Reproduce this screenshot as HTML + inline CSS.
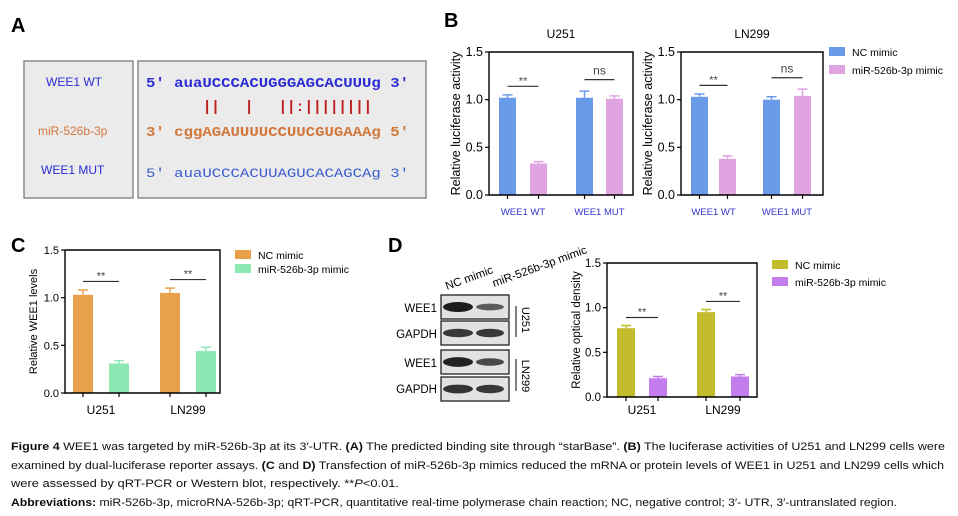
<!DOCTYPE html>
<html><head><meta charset="utf-8"><style>
html,body{margin:0;padding:0;background:#fff;width:958px;height:516px;overflow:hidden}
svg{display:block}
text{font-family:"Liberation Sans",sans-serif}
.mono{font-family:"Liberation Mono",monospace;font-weight:bold}
</style></head><body>
<svg id="fig" width="958" height="516" viewBox="0 0 958 516">
<!-- Panel A -->
<text x="11" y="32" font-size="20" font-weight="bold">A</text>
<rect x="24" y="61" width="109" height="137" fill="#ebebeb" stroke="#8a8a8a" stroke-width="1.5"/>
<rect x="138" y="61" width="288" height="137" fill="#ebebeb" stroke="#8a8a8a" stroke-width="1.5"/>
<text x="46" y="86" font-size="12" fill="#2b2bd6">WEE1 WT</text>
<text x="38" y="135" font-size="12" fill="#d2763a">miR-526b-3p</text>
<text x="41" y="174" font-size="12" fill="#2b2bd6">WEE1 MUT</text>
<text class="mono" x="146" y="87" font-size="14" fill="#2b2bd6" textLength="263" lengthAdjust="spacingAndGlyphs">5' auaUCCCACUGGGAGCACUUUg 3'</text>
<text x="205" y="111" font-size="15" font-weight="bold" fill="#c02020" textLength="165" xml:space="preserve">||   |   ||:||||||||</text>
<text class="mono" x="146" y="136" font-size="14" fill="#d2763a" textLength="263" lengthAdjust="spacingAndGlyphs">3' cggAGAUUUUCCUUCGUGAAAg 5'</text>
<text class="mono" x="146" y="177" font-size="13" fill="#3b5bd0" textLength="263" lengthAdjust="spacingAndGlyphs" style="font-weight:normal">5' auaUCCCACUUAGUCACAGCAg 3'</text>

<text x="444" y="27" font-size="20" font-weight="bold">B</text>
<text x="11" y="252" font-size="20" font-weight="bold">C</text>
<text x="388" y="252" font-size="20" font-weight="bold">D</text>

<!-- Western blot -->
<g>
<text x="447" y="290" font-size="11.5" transform="rotate(-20 447 290)">NC mimic</text>
<text x="494" y="287" font-size="11.5" transform="rotate(-20 494 287)">miR-526b-3p mimic</text>
<g id="blots"></g>
<text x="437" y="312" font-size="11.5" text-anchor="end">WEE1</text>
<text x="437" y="338" font-size="11.5" text-anchor="end">GAPDH</text>
<text x="437" y="367" font-size="11.5" text-anchor="end">WEE1</text>
<text x="437" y="393" font-size="11.5" text-anchor="end">GAPDH</text>
<line x1="516" y1="306" x2="516" y2="337" stroke="#000"/>
<line x1="516" y1="359" x2="516" y2="391" stroke="#000"/>
<text x="522" y="320" font-size="11" transform="rotate(90 522 320)" text-anchor="middle">U251</text>
<text x="522" y="376" font-size="11" transform="rotate(90 522 376)" text-anchor="middle">LN299</text>
</g>

<!-- Caption -->
<g font-size="11.3" fill="#111">
<text x="11" y="450" textLength="934" lengthAdjust="spacingAndGlyphs"><tspan font-weight="bold">Figure 4</tspan> WEE1 was targeted by miR-526b-3p at its 3′-UTR. <tspan font-weight="bold">(A)</tspan> The predicted binding site through “starBase”. <tspan font-weight="bold">(B)</tspan> The luciferase activities of U251 and LN299 cells were</text>
<text x="11" y="469" textLength="933" lengthAdjust="spacingAndGlyphs">examined by dual-luciferase reporter assays. <tspan font-weight="bold">(C</tspan> and <tspan font-weight="bold">D)</tspan> Transfection of miR-526b-3p mimics reduced the mRNA or protein levels of WEE1 in U251 and LN299 cells which</text>
<text x="11" y="487" textLength="388" lengthAdjust="spacingAndGlyphs">were assessed by qRT-PCR or Western blot, respectively. **<tspan font-style="italic">P</tspan>&lt;0.01.</text>
<text x="11" y="506" textLength="886" lengthAdjust="spacingAndGlyphs"><tspan font-weight="bold">Abbreviations:</tspan> miR-526b-3p, microRNA-526b-3p; qRT-PCR, quantitative real-time polymerase chain reaction; NC, negative control; 3′- UTR, 3′-untranslated region.</text>
</g>
<g id="charts"></g>
</svg>
<script>
// ---- data ----
const yTicks = [0.0, 0.5, 1.0, 1.5];
const yTickLabels = ["0.0", "0.5", "1.0", "1.5"];
const bCategories = ["WEE1 WT", "WEE1 MUT"];
const bU251Nc = [1.02, 1.02];
const bU251NcErr = [0.03, 0.07];
const bU251Mir = [0.33, 1.01];
const bU251MirErr = [0.02, 0.03];
const bLn299Nc = [1.03, 1.00];
const bLn299NcErr = [0.03, 0.03];
const bLn299Mir = [0.38, 1.04];
const bLn299MirErr = [0.03, 0.07];
const bU251Sig = ["**", "ns"];
const bLn299Sig = ["**", "ns"];
const cCategories = ["U251", "LN299"];
const cNc = [1.03, 1.05];
const cNcErr = [0.05, 0.05];
const cMir = [0.31, 0.44];
const cMirErr = [0.03, 0.04];
const cSig = ["**", "**"];
const dCategories = ["U251", "LN299"];
const dNc = [0.77, 0.95];
const dNcErr = [0.03, 0.03];
const dMir = [0.21, 0.23];
const dMirErr = [0.02, 0.02];
const dSig = ["**", "**"];
const blotNc = [1.0, 0.75, 0.95, 0.8];
const blotMir = [0.45, 0.75, 0.6, 0.75];

const NS = "http://www.w3.org/2000/svg";
const root = document.getElementById("charts");
function mk(tag, attrs, parent, txt) {
  const e = document.createElementNS(NS, tag);
  for (const k in attrs) e.setAttribute(k, attrs[k]);
  if (txt !== undefined) e.textContent = txt;
  (parent || root).appendChild(e);
  return e;
}

function chart(cfg) {
  const g = mk("g", {});
  
  
  const y = v => cfg.y0 - (v / 1.5) * (cfg.y0 - cfg.y1);
  yTicks.forEach((t, i) => {
    const tk = mk("line", {x1: cfg.x0 - 4, x2: cfg.x0, y1: y(t), y2: y(t), stroke: "#000", "stroke-width": 1.2}, g);
    
    
    const tl = mk("text", {x: cfg.x0 - 6, y: y(t) + 4, "font-size": cfg.fs, "text-anchor": "end"}, g, yTickLabels[i]);
    
    
  });
  const yt = mk("text", {x: cfg.titleX, y: (cfg.y0 + cfg.y1) / 2, "font-size": cfg.tfs || cfg.fs, "text-anchor": "middle", transform: `rotate(-90 ${cfg.titleX} ${(cfg.y0 + cfg.y1) / 2})`}, g, cfg.yTitle);
  
  
  if (cfg.title) {
    const tt = mk("text", {x: (cfg.x0 + cfg.x2) / 2, y: cfg.y1 - 14, "font-size": 12, "text-anchor": "middle"}, g, cfg.title);
    
    
  }
  const series = [[cfg.nc, cfg.ncErr, cfg.ncColor, cfg.ncX], [cfg.mir, cfg.mirErr, cfg.mirColor, cfg.mirX]];
  series.forEach((s, si) => {
    s[0].forEach((v, i) => {
      const x = s[3][i];
      const top = y(v + s[1][i]);
      const eb = mk("path", {d: `M${x + cfg.bw / 2} ${y(v)}V${top}M${x + cfg.bw / 2 - 5} ${top}H${x + cfg.bw / 2 + 5}`, stroke: s[2], "stroke-width": 1.5, fill: "none"}, g);
      
      
      const r = mk("rect", {x: x, y: y(v), width: cfg.bw, height: cfg.y0 - y(v), fill: s[2]}, g);
      
      
      const xt = mk("line", {x1: x + cfg.bw / 2, x2: x + cfg.bw / 2, y1: cfg.y0, y2: cfg.y0 + 4, stroke: "#000", "stroke-width": 1.2}, g);
      
      
    });
  });
  cfg.cats.forEach((c, i) => {
    const xa = cfg.ncX[i] + cfg.bw / 2, xb = cfg.mirX[i] + cfg.bw / 2;
    const top = Math.max(cfg.nc[i] + cfg.ncErr[i], cfg.mir[i] + cfg.mirErr[i]);
    const sy = y(top + (cfg.sig[i] === "ns" ? 0.12 : 0.09));
    const sl = mk("line", {x1: xa, x2: xb, y1: sy, y2: sy, stroke: "#333", "stroke-width": 1.2}, g);
    
    
    const st = mk("text", {x: (xa + xb) / 2, y: sy - (cfg.sig[i] === "ns" ? 5 : 2), "font-size": cfg.sig[i] === "ns" ? 12 : 11, "text-anchor": "middle", fill: "#444"}, g, cfg.sig[i]);
    
    
    const cl = mk("text", {x: (xa + xb) / 2, y: cfg.catY, "font-size": cfg.catFs, "text-anchor": "middle", fill: cfg.catColor}, g, c);
    
    
  });
  const ax = mk("path", {d: `M${cfg.x0} ${cfg.y1}V${cfg.y0}H${cfg.x2}` + (cfg.box ? `V${cfg.y1}H${cfg.x0}` : ""), stroke: "#000", "stroke-width": 1.4, fill: "none"}, g);
  
  
  if (cfg.legend) {
    cfg.legend.labels.forEach((lab, i) => {
      const ly = cfg.legend.y + i * cfg.legend.dy;
      const sw = mk("rect", {x: cfg.legend.x, y: ly - 5, width: 16, height: 9, fill: [cfg.ncColor, cfg.mirColor][i]}, g);
      
      
      const lt = mk("text", {x: cfg.legend.x + 23, y: ly + 4, "font-size": 10.5}, g, lab);
      
      
    });
  }
}

chart({name: "chart-b-u251", title: "U251", x0: 489, x2: 633, y0: 195, y1: 52, titleX: 460, yTitle: "Relative luciferase activity", fs: 12.5, tfs: 12.5,
  cats: bCategories, nc: bU251Nc, ncErr: bU251NcErr, mir: bU251Mir, mirErr: bU251MirErr, sig: bU251Sig,
  ncX: [499, 576], mirX: [530, 606], bw: 17, ncColor: "#6a9be8", mirColor: "#e0a4e0", catY: 215, catFs: 9.5, catColor: "#3434cc", box: true});
chart({name: "chart-b-ln299", title: "LN299", x0: 681, x2: 823, y0: 195, y1: 52, titleX: 652, yTitle: "Relative luciferase activity", fs: 12.5, tfs: 12.5,
  cats: bCategories, nc: bLn299Nc, ncErr: bLn299NcErr, mir: bLn299Mir, mirErr: bLn299MirErr, sig: bLn299Sig,
  ncX: [691, 763], mirX: [719, 794], bw: 17, ncColor: "#6a9be8", mirColor: "#e0a4e0", catY: 215, catFs: 9.5, catColor: "#3434cc", box: true,
  legend: {x: 829, y: 52, dy: 18, labels: ["NC mimic", "miR-526b-3p mimic"]}});
chart({name: "chart-c", x0: 65, x2: 220, y0: 393, y1: 250, titleX: 37, yTitle: "Relative WEE1 levels", fs: 11,
  cats: cCategories, nc: cNc, ncErr: cNcErr, mir: cMir, mirErr: cMirErr, sig: cSig,
  ncX: [73, 160], mirX: [109, 196], bw: 20, ncColor: "#e8a04a", mirColor: "#8de8b4", catY: 414, catFs: 12, catColor: "#000", box: true,
  legend: {x: 235, y: 255, dy: 14, labels: ["NC mimic", "miR-526b-3p mimic"]}});
chart({name: "chart-d", x0: 607, x2: 757, y0: 397, y1: 263, titleX: 580, yTitle: "Relative optical density", fs: 11.5,
  cats: dCategories, nc: dNc, ncErr: dNcErr, mir: dMir, mirErr: dMirErr, sig: dSig,
  ncX: [617, 697], mirX: [649, 731], bw: 18, ncColor: "#c2bb2c", mirColor: "#c47ded", catY: 414, catFs: 12, catColor: "#000", box: true,
  legend: {x: 772, y: 265, dy: 17, labels: ["NC mimic", "miR-526b-3p mimic"]}});

const blots = document.getElementById("blots");
const boxY = [295, 321, 350, 377];
blotNc.forEach((v, i) => {
  const b = mk("rect", {x: 441, y: boxY[i], width: 68, height: 24, fill: "#e2e2e2", stroke: "#222", "stroke-width": 1.3}, blots);
  
  
  const b1 = mk("ellipse", {cx: 458, cy: boxY[i] + 12, rx: 15, ry: 2 + 3 * v, fill: "#111", opacity: 0.4 + 0.55 * v}, blots);
  
  
  const b2 = mk("ellipse", {cx: 490, cy: boxY[i] + 12, rx: 14, ry: 2 + 3 * blotMir[i], fill: "#111", opacity: 0.4 + 0.55 * blotMir[i]}, blots);
  
  
});
</script>
</body></html>
